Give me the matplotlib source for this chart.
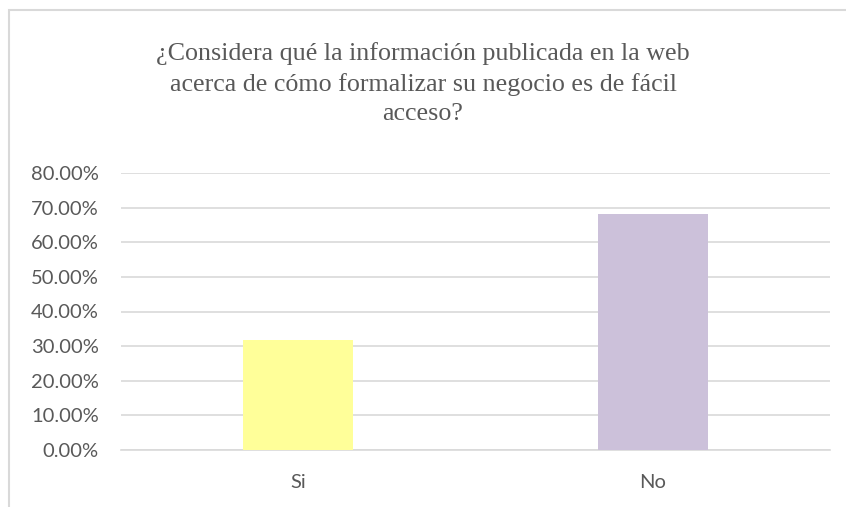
import matplotlib.pyplot as plt
from matplotlib.patches import Rectangle
from matplotlib.ticker import FuncFormatter

# Datos
categorias = ['Si', 'No']
valores = [0.317, 0.683]
colores = ['#FFFF99', '#CCC1DA']

titulo = ('¿Considera qué la información publicada en la web\n'
          'acerca de cómo formalizar su negocio es de fácil\n'
          'acceso?')

fig = plt.figure(figsize=(8.46, 5.07), dpi=100)
ax = fig.add_axes([121 / 846, 1 - 450 / 507, 709 / 846, (450 - 173) / 507])

x = range(len(categorias))
ax.bar(x, valores, width=0.31, color=colores, zorder=3)

ax.set_xlim(-0.5, 1.5)
ax.set_ylim(0, 0.8)
ax.set_yticks([i / 10 for i in range(9)])
ax.yaxis.set_major_formatter(FuncFormatter(lambda v, p: f'{v * 100:.2f}%'))
ax.set_xticks(list(x))
ax.set_xticklabels(categorias)

ax.grid(axis='y', color='#D9D9D9', linewidth=1.2, zorder=0)
for s in ['top', 'right', 'left']:
    ax.spines[s].set_visible(False)
ax.spines['bottom'].set_color('#D9D9D9')
ax.spines['bottom'].set_linewidth(1.2)
ax.tick_params(axis='both', length=0, labelsize=14.5, colors='#595959')
ax.tick_params(axis='y', pad=16)
ax.tick_params(axis='x', pad=17)
for lab in ax.get_xticklabels() + ax.get_yticklabels():
    lab.set_fontfamily('Lato')

fig.text(0.5, 1 - 42 / 507, titulo, ha='center', va='top',
         fontsize=18.7, family='Liberation Serif', color='#595959',
         linespacing=1.42)

# Marco del gráfico (solo se ven los bordes superior e izquierdo)
fig.patches.append(Rectangle((9 / 846, -0.05), 1.0, 1 - 10 / 507 + 0.05,
                             transform=fig.transFigure, fill=False,
                             edgecolor='#D9D9D9', linewidth=1.5))

fig.savefig('out.png', dpi=100)
